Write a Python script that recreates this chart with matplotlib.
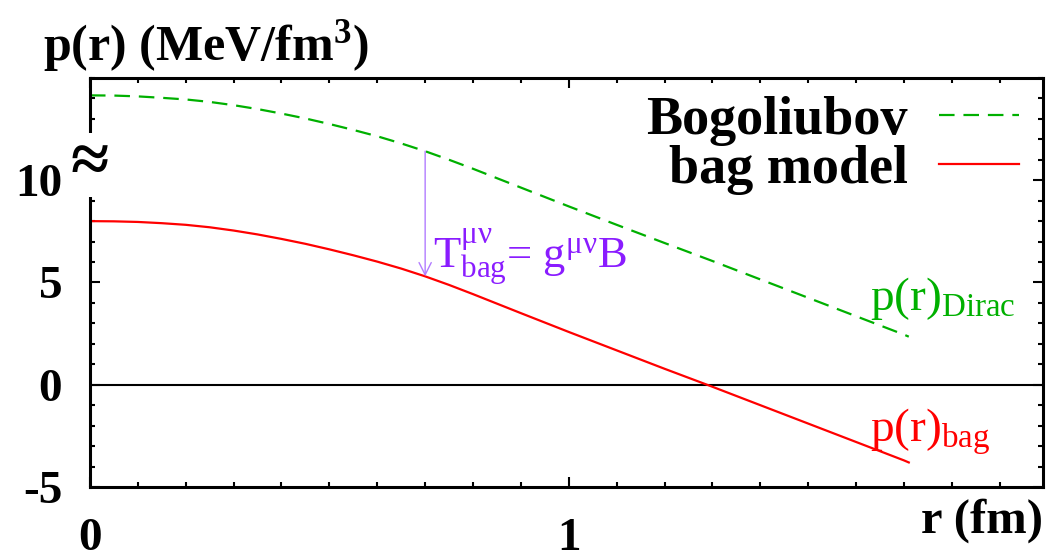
import numpy as np
import matplotlib
matplotlib.use("Agg")
import matplotlib.pyplot as plt
from matplotlib.ticker import MultipleLocator

plt.rcParams['font.family'] = ['Liberation Serif', 'DejaVu Serif']
plt.rcParams['mathtext.fontset'] = 'custom'
plt.rcParams['mathtext.rm'] = 'Liberation Serif'
plt.rcParams['mathtext.it'] = 'Liberation Serif:italic'
plt.rcParams['mathtext.bf'] = 'Liberation Serif:bold'
plt.rcParams['axes.unicode_minus'] = False

# radius (fm)
r = [0.0, 0.05, 0.1, 0.15, 0.2, 0.25, 0.3, 0.35, 0.4, 0.45, 0.5, 0.55,
     0.6, 0.65, 0.7, 0.75, 0.8, 0.9, 1.0, 1.1, 1.2, 1.3, 1.4, 1.5,
     1.6, 1.7, 1.71]
# pressure, Bogoliubov (Dirac part), MeV/fm^3
p_dirac = [14.15, 14.14, 14.1, 14.03, 13.95, 13.83, 13.67, 13.48, 13.26,
           13.02, 12.75, 12.46, 12.15, 11.8, 11.42, 11.0, 10.56, 9.64,
           8.72, 7.82, 6.93, 6.05, 5.15, 4.25, 3.35, 2.45, 2.35]
# pressure, bag model
p_bag = [8.0, 7.99, 7.96, 7.9, 7.82, 7.7, 7.54, 7.35, 7.13, 6.89, 6.62,
         6.33, 6.02, 5.68, 5.3, 4.88, 4.43, 3.5, 2.58, 1.68, 0.78, -0.1,
         -1.0, -1.9, -2.8, -3.7, -3.8]

r_arrow = 0.70

green = '#00b000'
red = '#ff0000'
purple = '#8a1cff'

fig = plt.figure(figsize=(10.46, 5.57), dpi=100)
ax = fig.add_axes([0.086, 0.1257, 0.911, 0.7343])

ax.plot(r, p_dirac, color=green, lw=1.6, dashes=(7, 4), label='Bogoliubov')
ax.plot(r, p_bag, color=red, lw=1.6, label='bag model')
ax.axhline(0, color='black', lw=1.5, zorder=1)

ax.set_xlim(0, 1.99)
ax.set_ylim(-5, 15)
ax.xaxis.set_major_locator(MultipleLocator(1))
ax.xaxis.set_minor_locator(MultipleLocator(0.1))
ax.yaxis.set_minor_locator(MultipleLocator(1))
ax.set_yticks([-5, 0, 5, 10])
ax.tick_params(which='both', direction='in', top=True, right=True, width=1.5)
ax.tick_params(which='major', length=7)
ax.tick_params(which='minor', length=3.5)
ax.tick_params(axis='x', which='major', labelsize=34, pad=22)
ax.tick_params(axis='y', which='major', labelsize=34, pad=20)
for lab in ax.get_xticklabels() + ax.get_yticklabels():
    lab.set_fontweight('bold')
for s in ax.spines.values():
    s.set_linewidth(2.2)

# arrow between the two curves
y_top = np.interp(r_arrow, r, p_dirac)
y_bot = np.interp(r_arrow, r, p_bag)
ax.annotate('', xy=(r_arrow, y_bot), xytext=(r_arrow, y_top),
            arrowprops=dict(arrowstyle='->', color='#b27cff', lw=1.0,
                            mutation_scale=22, shrinkA=0, shrinkB=0))
ax.text(0.716, 5.7, r'T$^{\mathrm{\mu\nu}}_{\mathrm{bag}}$= g$^{\mathrm{\mu\nu}}$B',
        color=purple, fontsize=32, va='baseline', ha='left')

ax.text(1.628, 3.66, r'p(r)$_{\mathrm{Dirac}}$', color=green, fontsize=34,
        va='baseline', ha='left')
ax.text(1.628, -2.78, r'p(r)$_{\mathrm{bag}}$', color=red, fontsize=34,
        va='baseline', ha='left')

# axis break mark
ax.text(0.0, 10.75, '\u2248', fontsize=50, fontweight='bold',
        ha='center', va='center', clip_on=False,
        bbox=dict(facecolor='white', edgecolor='none', pad=0))

leg = ax.legend(loc='upper right', bbox_to_anchor=(0.975, 0.956), frameon=False,
                markerfirst=False, fontsize=39, handlelength=1.48,
                handletextpad=0.58, labelspacing=-0.02, borderaxespad=0,
                borderpad=0)
for t in leg.get_texts():
    t.set_fontweight('bold')

fig.text(0.041, 0.892, r'p(r) (MeV/fm$^{\mathbf{3}}$)', fontsize=36,
         fontweight='bold', ha='left', va='baseline')
fig.text(0.997, 0.043, 'r (fm)', fontsize=35, fontweight='bold',
         ha='right', va='baseline')

fig.savefig('out.png', dpi=100)
